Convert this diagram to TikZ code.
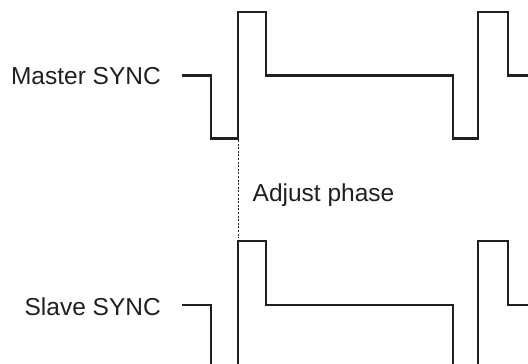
\documentclass[tikz,border=0pt]{standalone}
\usepackage{fontspec}
\setmainfont{Liberation Sans}
\definecolor{ink}{HTML}{231F20}
\begin{document}
\begin{tikzpicture}[x=1pt,y=-1pt,
  wave/.style={draw=ink,line width=2.4pt,line join=miter},
  guide/.style={draw=ink,line width=1pt,dash pattern=on 2pt off 1.6pt},
  lbl/.style={inner sep=0pt,text=ink,font=\fontsize{24.5}{29}\selectfont}]
\useasboundingbox (0,0) rectangle (528,364);
\clip (0,0) rectangle (528,364);
% labels
\node[lbl,anchor=base east] (master) at (161,84.3) {Master SYNC};
\node[lbl,anchor=base east] (slave) at (161,315.5) {Slave SYNC};
\node[lbl,anchor=base west] (adjust) at (252.5,201.7) {Adjust phase};
% master waveform
\draw[wave] (182,75.5) -- (211,75.5) -- (211,138.5) -- (238,138.5) -- (238,12) -- (266,12)
  -- (266,75.5) -- (453,75.5) -- (453,138.5) -- (478,138.5) -- (478,12) -- (508,12)
  -- (508,75.5) -- (535,75.5);
% slave waveform
\draw[wave] (182,305) -- (211,305) -- (211,372);
\draw[wave] (238,372) -- (238,241) -- (266,241) -- (266,305) -- (453,305) -- (453,372);
\draw[wave] (478,372) -- (478,241) -- (508,241) -- (508,305) -- (535,305);
% phase guide
\coordinate (gtop) at (238.5,140);
\coordinate (gbot) at (238.5,238);
\draw[guide] (gtop) -- (gbot);
\end{tikzpicture}
\end{document}
